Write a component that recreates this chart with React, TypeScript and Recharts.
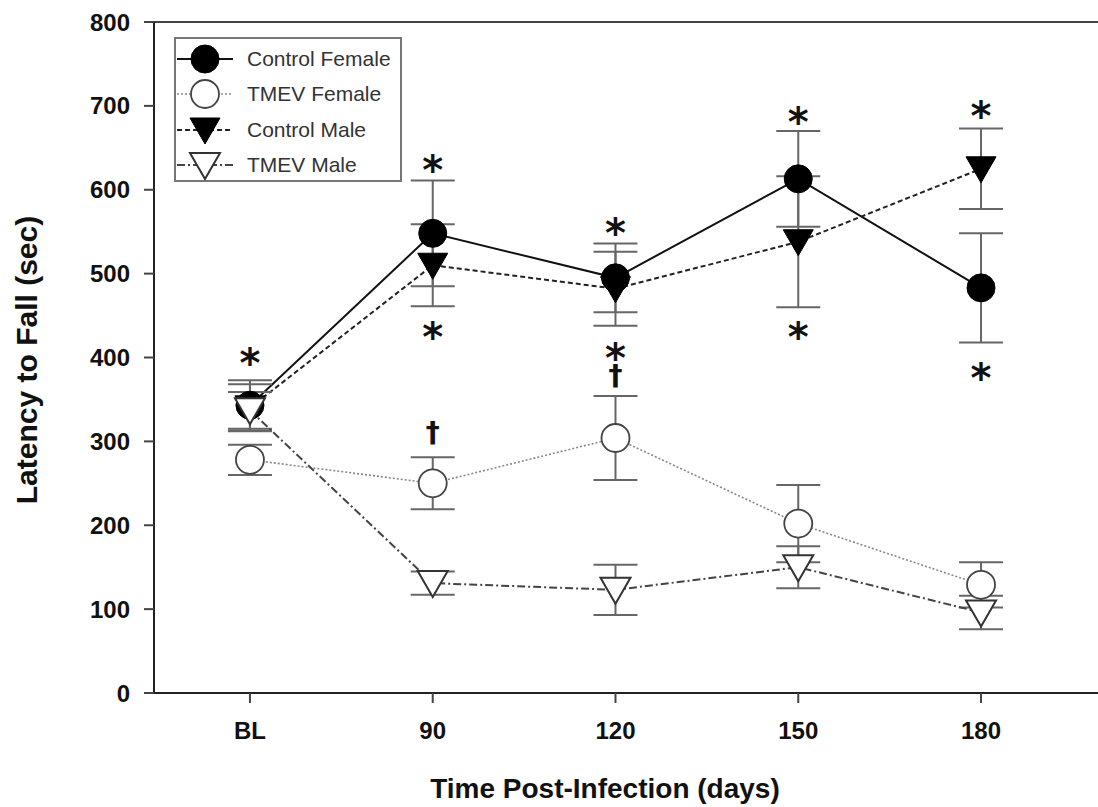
import React from 'react';
import { ComposedChart, Line, XAxis, YAxis, ErrorBar, ReferenceLine, Legend } from 'recharts';

// ---- data ----
const categories = ['BL', '90', '120', '150', '180'];
const yTicks = [0, 100, 200, 300, 400, 500, 600, 700, 800];

const controlFemale = [343, 548, 495, 613, 483];
const controlFemaleErr = [30, 63, 41, 57, 65];
const tmevFemale = [278, 250, 304, 202, 129];
const tmevFemaleErr = [18, 31, 50, 46, 27];
const controlMale = [340, 510, 482, 538, 625];
const controlMaleErr = [28, 49, 44, 78, 48];
const tmevMale = [337, 131, 123, 150, 96];
const tmevMaleErr = [22, 14, 30, 25, 20];

// significance markers (value positions)
const starAbove = [405, 635, 560, 693, 700];
const starBelow = [null, 436, 411, 436, 387];
const daggerMarks = [null, 310, 378, null, null];

const seriesKeys = ['cf', 'tf', 'cm', 'tm'];
const seriesNames = ['Control Female', 'TMEV Female', 'Control Male', 'TMEV Male'];

const data = categories.map((c, i) => ({
  x: i,
  cat: c,
  cf: controlFemale[i],
  cfErr: controlFemaleErr[i],
  tf: tmevFemale[i],
  tfErr: tmevFemaleErr[i],
  cm: controlMale[i],
  cmErr: controlMaleErr[i],
  tm: tmevMale[i],
  tmErr: tmevMaleErr[i],
  starA: starAbove[i],
  starB: starBelow[i],
  dag: daggerMarks[i],
}));

const FONT = '"Liberation Sans", Arial, Helvetica, sans-serif';

type Kind = 'circleFilled' | 'circleOpen' | 'triFilled' | 'triOpen';

const styles: Record<string, { kind: Kind; stroke: string; width: number; dash?: string }> = {
  cf: { kind: 'circleFilled', stroke: '#111', width: 2 },
  tf: { kind: 'circleOpen', stroke: '#888', width: 1.6, dash: '2 2' },
  cm: { kind: 'triFilled', stroke: '#222', width: 2, dash: '5 3' },
  tm: { kind: 'triOpen', stroke: '#444', width: 2, dash: '8 3 2 3' },
};

function marker(kind: Kind, cx: number, cy: number, key?: any) {
  if (kind === 'circleFilled')
    return <circle key={key} cx={cx} cy={cy} r={14} fill="#000" stroke="#000" strokeWidth={1} />;
  if (kind === 'circleOpen')
    return <circle key={key} cx={cx} cy={cy} r={14} fill="#fff" stroke="#444" strokeWidth={1.8} />;
  const pts = `${cx - 15},${cy - 12} ${cx + 15},${cy - 12} ${cx},${cy + 14}`;
  if (kind === 'triFilled') return <polygon key={key} points={pts} fill="#000" stroke="#000" strokeWidth={1} />;
  return <polygon key={key} points={pts} fill="#fff" stroke="#333" strokeWidth={2} />;
}

const makeDot = (kind: Kind) => (props: any) => {
  const { cx, cy, index, value } = props;
  if (value == null || cx == null || cy == null) return <g key={`d-${kind}-${index}`} />;
  return marker(kind, cx, cy, `d-${kind}-${index}`);
};

const makeText = (sym: string, size: number, shift: number, weight: string, family: string) => (props: any) => {
  const { cx, cy, index, value } = props;
  if (value == null || cx == null || cy == null) return <g key={`t-${sym}-${index}`} />;
  return (
    <text
      key={`t-${sym}-${index}`}
      x={cx}
      y={cy + shift}
      textAnchor="middle"
      fontSize={size}
      fontWeight={weight}
      fontFamily={family}
      fill="#111"
    >
      {sym}
    </text>
  );
};

const renderLegend = (props: any) => {
  const payload = (props.payload || [])
    .filter((p: any) => styles[p.dataKey])
    .sort((a: any, b: any) => seriesKeys.indexOf(a.dataKey) - seriesKeys.indexOf(b.dataKey));
  return (
    <div
      style={{
        border: '2px solid #777',
        background: '#fff',
        width: 228,
        height: 145,
        boxSizing: 'border-box',
        paddingTop: 2,
        fontFamily: FONT,
        fontSize: 21,
        color: '#333',
      }}
    >
      {payload.map((p: any) => {
        const s = styles[p.dataKey];
        return (
          <div key={p.dataKey} style={{ display: 'flex', alignItems: 'center', height: 35.5 }}>
            <svg width={68} height={34} style={{ display: 'block' }}>
              <line x1={1} y1={17} x2={57} y2={17} stroke={s.stroke} strokeWidth={s.width} strokeDasharray={s.dash} />
              {marker(s.kind, 29, 17)}
            </svg>
            <span style={{ marginLeft: 3, whiteSpace: 'nowrap' }}>{p.value}</span>
          </div>
        );
      })}
    </div>
  );
};

export default function App() {
  return (
    <div style={{ position: 'absolute', left: 0, top: 0, width: 1098, height: 807, background: '#fff' }}>
      <ComposedChart width={1098} height={807} data={data} margin={{ top: 22, right: 0, bottom: 0, left: 0 }}>
        <XAxis
          type="number"
          dataKey="x"
          domain={[-0.525, 4.64]}
          ticks={[0, 1, 2, 3, 4]}
          tickFormatter={(v: number) => categories[v]}
          allowDataOverflow
          height={114}
          axisLine={{ stroke: '#222', strokeWidth: 2 }}
          tickLine={{ stroke: '#444', strokeWidth: 2 }}
          tickSize={10}
          tickMargin={19}
          tick={{ fontSize: 24, fontWeight: 'bold', fill: '#111', fontFamily: FONT }}
          label={{
            content: () => (
              <text x={605} y={798} textAnchor="middle" fontSize={28} fontWeight="bold" fontFamily={FONT} fill="#111">
                Time Post-Infection (days)
              </text>
            ),
          }}
        />
        <YAxis
          type="number"
          domain={[0, 800]}
          ticks={yTicks}
          allowDataOverflow
          width={154}
          axisLine={{ stroke: '#222', strokeWidth: 2 }}
          tickLine={{ stroke: '#444', strokeWidth: 2 }}
          tickSize={10}
          tickMargin={14}
          tick={{ fontSize: 24, fontWeight: 'bold', fill: '#111', fontFamily: FONT }}
          label={{
            content: () => (
              <text
                x={0}
                y={0}
                transform="translate(37, 360) rotate(-90)"
                textAnchor="middle"
                fontSize={30}
                fontWeight="bold"
                fontFamily={FONT}
                fill="#111"
              >
                Latency to Fall (sec)
              </text>
            ),
          }}
        />
        <ReferenceLine y={800} stroke="#444" strokeWidth={2} />
        <Legend
          content={renderLegend}
          layout="horizontal"
          verticalAlign="middle"
          align="center"
          wrapperStyle={{ position: 'absolute', left: 174, top: 37, width: 228, height: 145 }}
        />
        <Line
          dataKey="cf"
          name={seriesNames[0]}
          stroke={styles.cf.stroke}
          strokeWidth={styles.cf.width}
          dot={makeDot('circleFilled')}
          activeDot={false}
          isAnimationActive={false}
        >
          <ErrorBar dataKey="cfErr" direction="y" width={22} stroke="#666" strokeWidth={2} />
        </Line>
        <Line
          dataKey="tf"
          name={seriesNames[1]}
          stroke={styles.tf.stroke}
          strokeWidth={styles.tf.width}
          strokeDasharray={styles.tf.dash}
          dot={makeDot('circleOpen')}
          activeDot={false}
          isAnimationActive={false}
        >
          <ErrorBar dataKey="tfErr" direction="y" width={22} stroke="#666" strokeWidth={2} />
        </Line>
        <Line
          dataKey="cm"
          name={seriesNames[2]}
          stroke={styles.cm.stroke}
          strokeWidth={styles.cm.width}
          strokeDasharray={styles.cm.dash}
          dot={makeDot('triFilled')}
          activeDot={false}
          isAnimationActive={false}
        >
          <ErrorBar dataKey="cmErr" direction="y" width={22} stroke="#666" strokeWidth={2} />
        </Line>
        <Line
          dataKey="tm"
          name={seriesNames[3]}
          stroke={styles.tm.stroke}
          strokeWidth={styles.tm.width}
          strokeDasharray={styles.tm.dash}
          dot={makeDot('triOpen')}
          activeDot={false}
          isAnimationActive={false}
        >
          <ErrorBar dataKey="tmErr" direction="y" width={22} stroke="#666" strokeWidth={2} />
        </Line>
        <Line
          dataKey="starA"
          stroke="none"
          legendType="none"
          dot={makeText('*', 40, 24, 'bold', '"DejaVu Sans", sans-serif')}
          activeDot={false}
          isAnimationActive={false}
        />
        <Line
          dataKey="starB"
          stroke="none"
          legendType="none"
          dot={makeText('*', 40, 24, 'bold', '"DejaVu Sans", sans-serif')}
          activeDot={false}
          isAnimationActive={false}
        />
        <Line
          dataKey="dag"
          stroke="none"
          legendType="none"
          dot={makeText('\u2020', 28, 9, 'bold', '"DejaVu Sans", sans-serif')}
          activeDot={false}
          isAnimationActive={false}
        />
      </ComposedChart>
    </div>
  );
}
